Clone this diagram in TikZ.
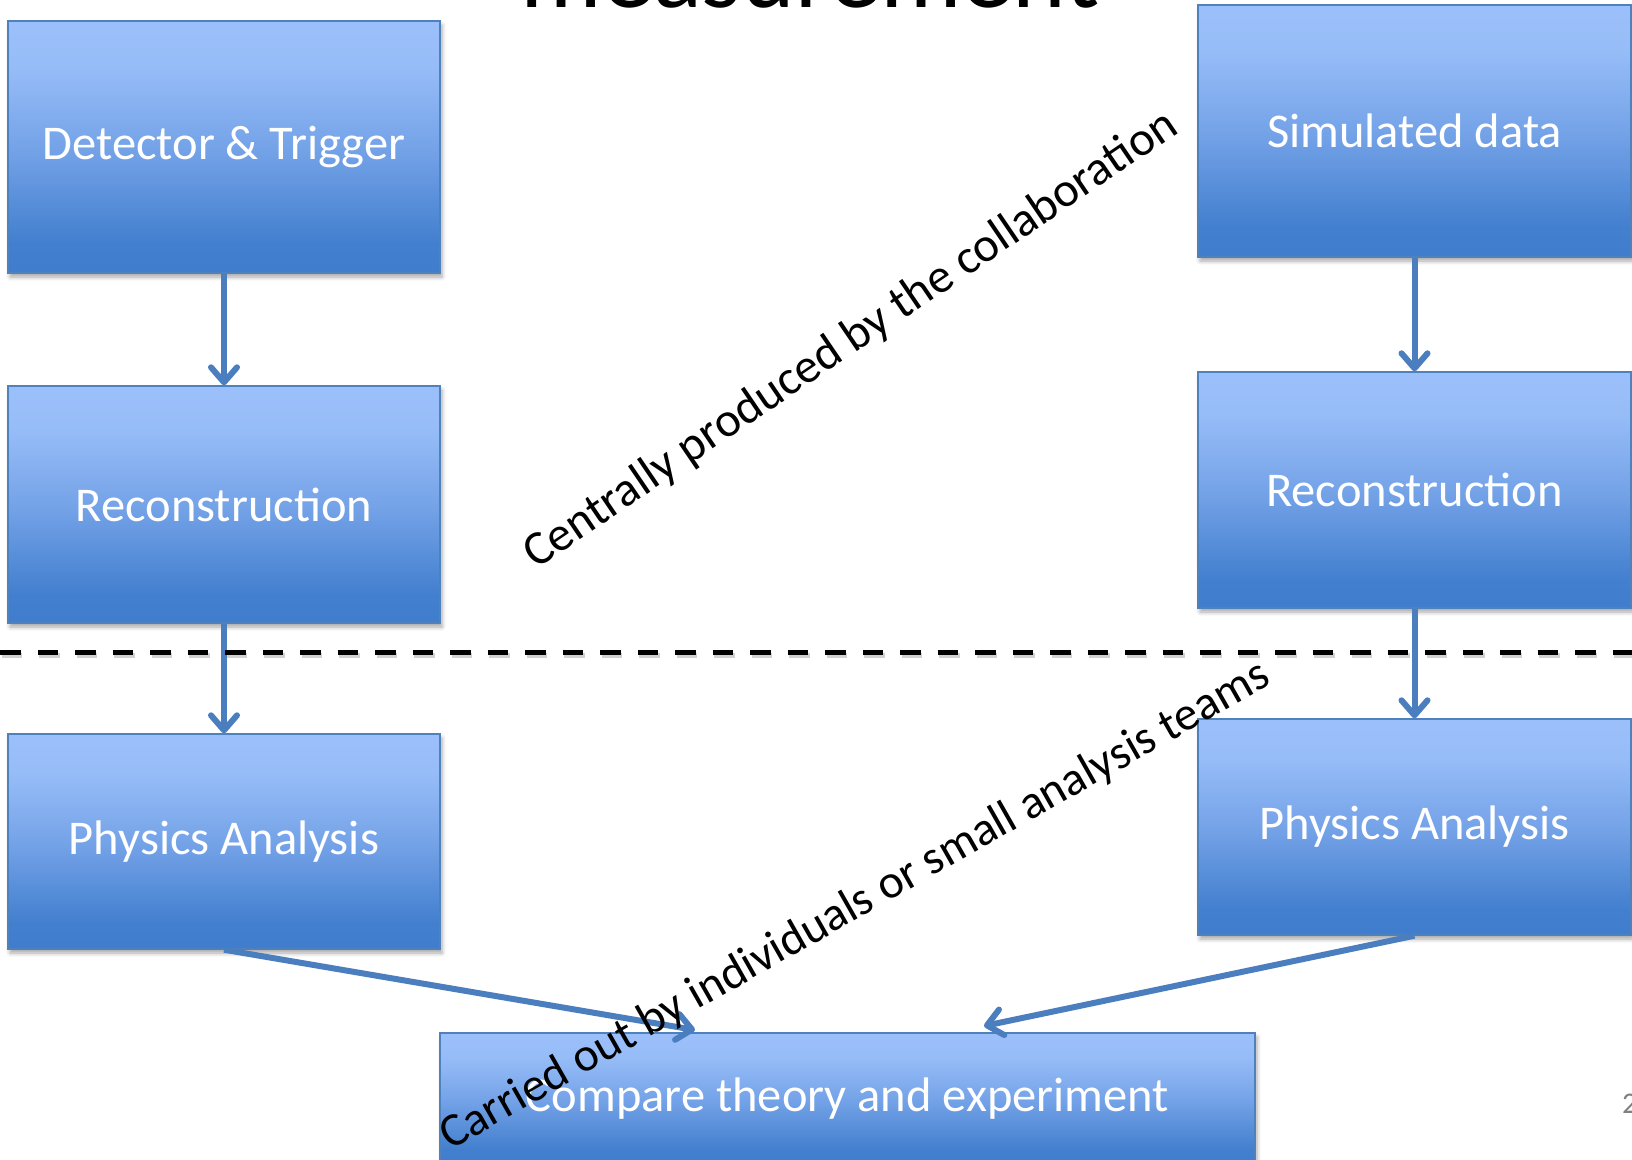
\documentclass[tikz,border=0pt]{standalone}
\usepackage{fontspec}
\setmainfont{Carlito}
\usetikzlibrary{arrows.meta,shadows.blur}

\definecolor{edgeblue}{RGB}{79,129,189}
\definecolor{flowblue}{RGB}{74,126,190}
\definecolor{pagegray}{RGB}{128,128,128}

% light at the top, deeper blue at the bottom; the box spans 25bp..75bp
\pgfdeclareverticalshading{boxgrad}{100bp}{%
  rgb(0bp)=(0.25,0.49,0.80);
  rgb(25bp)=(0.25,0.49,0.80);
  rgb(31bp)=(0.26,0.50,0.81);
  rgb(50bp)=(0.46,0.64,0.91);
  rgb(66bp)=(0.59,0.74,0.97);
  rgb(75bp)=(0.61,0.75,0.98);
  rgb(100bp)=(0.61,0.75,0.98)}

\begin{document}
\begin{tikzpicture}[x=1pt,y=-1pt,
  stepbox/.style={rectangle, draw=edgeblue, line width=1.4pt,
    shading=boxgrad, text=white, inner sep=0pt,
    font=\fontsize{48.5}{58}\selectfont,
    blur shadow={shadow xshift=2pt, shadow yshift=-4pt,
      shadow blur radius=4pt, shadow opacity=35}},
  flow/.style={draw=flowblue, line width=6pt,
    -{Straight Barb[length=15pt,width=26pt,round]}},
  note/.style={text=black, inner sep=0pt,
    font=\fontsize{48.5}{58}\selectfont},
  divider/.style={draw=black, line width=5pt,
    dash pattern=on 20.5pt off 17pt}]

\useasboundingbox (0,0) rectangle (1632,1159);
\clip (0,0) rectangle (1632,1159);

% slide title, mostly outside the visible area
\node[anchor=base, inner sep=0pt, font=\fontsize{102}{120}\selectfont]
  (title) at (810,8) {measurement};

% data chain (left)
\node[stepbox, minimum width=432pt, minimum height=252pt] (det)  at (224,147)   {Detector \& Trigger};
\node[stepbox, minimum width=432pt, minimum height=237pt] (recL) at (224,504.5) {Reconstruction};
\node[stepbox, minimum width=432pt, minimum height=215pt] (phyL) at (224,841.5) {Physics Analysis};

% simulation chain (right)
\node[stepbox, minimum width=433pt, minimum height=252pt] (sim)  at (1414.5,131) {Simulated data};
\node[stepbox, minimum width=433pt, minimum height=236pt] (recR) at (1414.5,490) {Reconstruction};
\node[stepbox, minimum width=433pt, minimum height=216pt] (phyR) at (1414.5,827) {Physics Analysis};

% final comparison
\node[stepbox, minimum width=815pt, minimum height=132pt] (cmp) at (847.5,1099) {Compare theory and experiment};

\coordinate (cmpL) at (695,1030);
\coordinate (cmpR) at (984,1026);

\draw[flow] (det.south)  -- (recL.north);
\draw[flow] (recL.south) -- (phyL.north);
\draw[flow] (sim.south)  -- (recR.north);
\draw[flow] (recR.south) -- (phyR.north);
\draw[flow] (phyL.south) -- (cmpL);
\draw[flow] (phyR.south) -- (cmpR);

% boundary between central production and analysis work
\coordinate (divW) at (0,652);
\coordinate (divE) at (1632,652);
\draw[divider, draw=black!35, opacity=0.5] ([shift={(1.5,3)}]divW) -- ([shift={(1.5,3)}]divE);
\draw[divider] (divW) -- (divE);

% slanted annotations
\node[note, rotate=34.2] (central) at (851,340) {Centrally produced by the collaboration};
\node[note, rotate=29.6, font=\fontsize{47.5}{57}\selectfont]
  (teams) at (855,906) {Carried out by individuals or small analysis teams};

% page number
\node[anchor=base west, inner sep=0pt, text=pagegray,
  font=\fontsize{30}{36}\selectfont] (page) at (1622,1113) {2};
\end{tikzpicture}
\end{document}
